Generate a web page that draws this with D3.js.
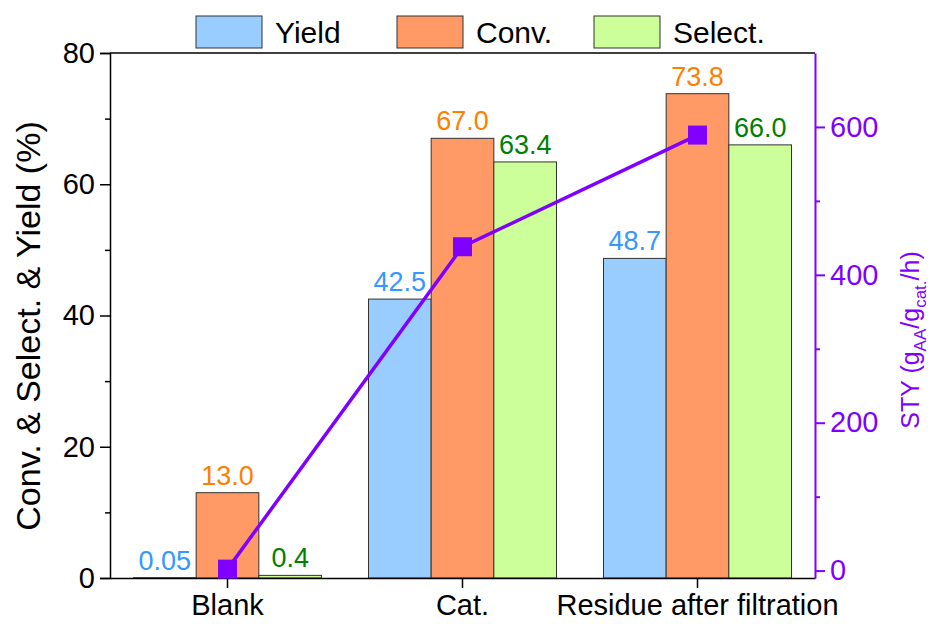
<!DOCTYPE html>
<html>
<head>
<meta charset="utf-8">
<script src="https://cdn.jsdelivr.net/npm/d3@7"></script>
<style>
  html, body { margin: 0; padding: 0; background: #fff; }
  svg { display: block; font-family: "Liberation Sans", Arial, sans-serif; }
</style>
</head>
<body>
<svg id="chart" width="933" height="624"></svg>
<script>
// Catalyst test results: conversion / selectivity / yield bars with STY on a second axis
const categories = ["Blank", "Cat.", "Residue after filtration"];
const seriesNames = ["Yield", "Conv.", "Select."];
const yieldValues = [0.05, 42.5, 48.7];
const convValues = [13.0, 67.0, 73.8];
const selectValues = [0.4, 63.4, 66.0];
const styValues = [2, 438, 589];
const leftTicks = [0, 20, 40, 60, 80];
const leftMinorTicks = [10, 30, 50, 70];
const rightTicks = [0, 200, 400, 600];
const rightMinorTicks = [100, 300, 500];

const fillColors = ["#99CCFF", "#FF9966", "#CCFF99"];
const labelColors = ["#3399FF", "#FF8000", "#008000"];
const styColor = "#8000FF";
const fontFamily = "Liberation Sans, Arial, sans-serif";

const svg = d3.select("#chart");
const margin = { left: 110, right: 118, top: 53, bottom: 46 };
const W = 933, H = 624;
const x0 = margin.left, x1 = W - margin.right;
const y0 = H - margin.bottom, y1 = margin.top;

const x = d3.scaleBand().domain(categories).range([x0, x1]).paddingInner(0.2).paddingOuter(0.1);
const xs = d3.scaleBand().domain(seriesNames).range([0, x.bandwidth()]);
const y = d3.scaleLinear().domain([0, 80]).range([y0, y1]);
const yR = d3.scaleLinear().domain([-10, 700]).range([y0, y1]);

const series = [yieldValues, convValues, selectValues];
const fmt = v => v < 0.1 ? v.toFixed(2) : v.toFixed(1);

// bars
series.forEach((vals, si) => {
  svg.append("g").selectAll("rect")
    .data(vals)
    .join("rect")
    .attr("x", (d, i) => x(categories[i]) + xs(seriesNames[si]))
    .attr("y", d => y(d))
    .attr("width", xs.bandwidth())
    .attr("height", d => y(0) - y(d))
    .attr("fill", fillColors[si])
    .attr("stroke", "#333")
    .attr("stroke-width", 1);
});

// value labels above bars
series.forEach((vals, si) => {
  svg.append("g").selectAll("text")
    .data(vals)
    .join("text")
    .attr("x", (d, i) => x(categories[i]) + xs(seriesNames[si]) + xs.bandwidth() / 2)
    .attr("y", d => y(d) - 8)
    .attr("text-anchor", "middle")
    .attr("font-size", 27)
    .attr("fill", labelColors[si])
    .text(d => fmt(d));
});

// frame top line
svg.append("line").attr("x1", x0).attr("x2", x1).attr("y1", y1).attr("y2", y1)
  .attr("stroke", "#000").attr("stroke-width", 1.5);

// left axis
const leftAxis = svg.append("g").attr("transform", `translate(${x0},0)`)
  .call(d3.axisLeft(y).tickValues(leftTicks).tickSize(10).tickPadding(5).tickFormat(d3.format("d")));
leftAxis.select(".domain").attr("stroke-width", 1.5);
leftAxis.selectAll(".tick line").attr("stroke-width", 1.5);
leftAxis.selectAll("text").attr("font-size", 29).attr("fill", "#000").attr("font-family", fontFamily);
svg.append("g").attr("transform", `translate(${x0},0)`)
  .call(d3.axisLeft(y).tickValues(leftMinorTicks).tickSize(5).tickFormat(""))
  .call(g => g.select(".domain").remove())
  .selectAll("line").attr("stroke-width", 1.5);

// bottom axis
const bottomAxis = svg.append("g").attr("transform", `translate(0,${y0})`)
  .call(d3.axisBottom(x).tickSize(10).tickPadding(6).tickSizeOuter(0));
bottomAxis.select(".domain").attr("stroke-width", 1.5);
bottomAxis.selectAll(".tick line").attr("stroke-width", 1.5);
bottomAxis.selectAll("text").attr("font-size", 29).attr("fill", "#000").attr("font-family", fontFamily);

// right axis (STY)
const rightAxis = svg.append("g").attr("transform", `translate(${x1},0)`)
  .call(d3.axisRight(yR).tickValues(rightTicks).tickSize(10).tickPadding(5).tickSizeOuter(0).tickFormat(d3.format("d")));
rightAxis.select(".domain").attr("stroke", styColor).attr("stroke-width", 2);
rightAxis.selectAll(".tick line").attr("stroke", styColor).attr("stroke-width", 2);
rightAxis.selectAll("text").attr("font-size", 29).attr("fill", styColor).attr("font-family", fontFamily);
svg.append("g").attr("transform", `translate(${x1},0)`)
  .call(d3.axisRight(yR).tickValues(rightMinorTicks).tickSize(5).tickFormat(""))
  .call(g => g.select(".domain").remove())
  .selectAll("line").attr("stroke", styColor).attr("stroke-width", 2);

// STY line and square markers
const cx = c => x(c) + x.bandwidth() / 2;
svg.append("path")
  .datum(styValues)
  .attr("fill", "none")
  .attr("stroke", styColor)
  .attr("stroke-width", 3.5)
  .attr("d", d3.line().x((d, i) => cx(categories[i])).y(d => yR(d)));
svg.append("g").selectAll("rect")
  .data(styValues)
  .join("rect")
  .attr("x", (d, i) => cx(categories[i]) - 9.5)
  .attr("y", d => yR(d) - 9.5)
  .attr("width", 19)
  .attr("height", 19)
  .attr("fill", styColor);

// axis titles
svg.append("text")
  .attr("transform", `translate(40,326) rotate(-90)`)
  .attr("text-anchor", "middle")
  .attr("font-size", 34)
  .attr("fill", "#000")
  .text("Conv. & Select. & Yield (%)");

const rt = svg.append("text")
  .attr("transform", `translate(919,340) rotate(-90)`)
  .attr("text-anchor", "middle")
  .attr("font-size", 25)
  .attr("fill", styColor);
rt.append("tspan").text("STY (g");
rt.append("tspan").attr("font-size", 17).attr("dy", 7).text("AA");
rt.append("tspan").attr("dy", -7).text("/g");
rt.append("tspan").attr("font-size", 17).attr("dy", 7).text("cat.");
rt.append("tspan").attr("dy", -7).text("/h)");

// legend
const legendX = [196, 397, 594];
const legend = svg.append("g");
seriesNames.forEach((name, i) => {
  legend.append("rect")
    .attr("x", legendX[i]).attr("y", 16)
    .attr("width", 66).attr("height", 32)
    .attr("fill", fillColors[i]).attr("stroke", "#333").attr("stroke-width", 1);
  legend.append("text")
    .attr("x", legendX[i] + 79).attr("y", 43)
    .attr("font-size", 30).attr("fill", "#000")
    .text(name);
});
</script>
</body>
</html>
